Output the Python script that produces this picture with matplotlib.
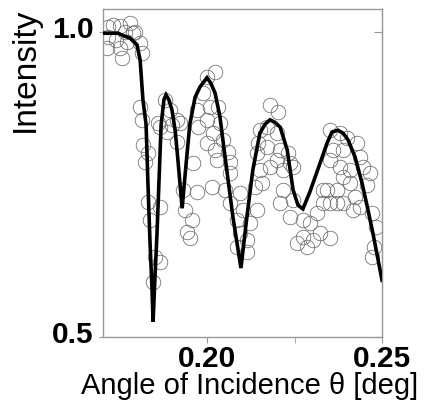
import numpy as np
import matplotlib
matplotlib.use("Agg")
import matplotlib.pyplot as plt
from matplotlib.transforms import ScaledTranslation

plt.rcParams['font.family'] = ['Liberation Sans', 'DejaVu Sans']

# fitted reflectivity curve
fit_theta = [0.1703, 0.1746, 0.1757, 0.1780, 0.1800, 0.1809, 0.1817, 0.1826, 0.1831, 0.1837,
             0.1843, 0.1846, 0.1851, 0.1857, 0.1863, 0.1869, 0.1877, 0.1883, 0.1891, 0.1900,
             0.1909, 0.1917, 0.1929, 0.1940, 0.1951, 0.1966, 0.1980, 0.2000, 0.2011, 0.2023,
             0.2037, 0.2051, 0.2074, 0.2097, 0.2114, 0.2131, 0.2151, 0.2166, 0.2180, 0.2194,
             0.2209, 0.2229, 0.2246, 0.2260, 0.2274, 0.2294, 0.2323, 0.2343, 0.2357, 0.2374,
             0.2389, 0.2403, 0.2423, 0.2443, 0.2457, 0.2474, 0.2500]
fit_int = [0.998, 0.998, 0.995, 0.990, 0.979, 0.954, 0.889, 0.848, 0.757, 0.659,
           0.577, 0.525, 0.593, 0.667, 0.757, 0.848, 0.889, 0.897, 0.889, 0.872,
           0.839, 0.790, 0.711, 0.782, 0.849, 0.893, 0.910, 0.925, 0.916, 0.900,
           0.861, 0.798, 0.697, 0.613, 0.697, 0.774, 0.834, 0.849, 0.856, 0.852,
           0.844, 0.807, 0.741, 0.716, 0.710, 0.738, 0.785, 0.818, 0.836, 0.839,
           0.834, 0.823, 0.795, 0.752, 0.716, 0.670, 0.593]

# measured points
meas_theta = [0.1717, 0.1731, 0.1751, 0.1780, 0.1794, 0.1766, 0.1717, 0.1740, 0.1771, 0.1809,
              0.1714, 0.1751, 0.1814, 0.1757, 0.1789,
              0.1809, 0.1814, 0.1817, 0.1823, 0.1831, 0.1837, 0.1866, 0.1851, 0.1866, 0.1846,
              0.1831,
              0.1880, 0.1894, 0.1914, 0.1900, 0.1866, 0.1886, 0.1914, 0.1860, 0.1923, 0.1931,
              0.1971, 0.1960, 0.1937, 0.1957, 0.1951, 0.1943,
              0.2023, 0.2000, 0.1989, 0.2009, 0.2031, 0.2000, 0.2037, 0.2017, 0.2046, 0.2000,
              0.2023, 0.2060, 0.1971, 0.1974, 0.2066,
              0.2029, 0.2066, 0.2051, 0.2094, 0.2137, 0.2157, 0.2066, 0.2103, 0.2143, 0.2086,
              0.2123, 0.2094, 0.2114, 0.2086, 0.2114, 0.2014,
              0.2180, 0.2203, 0.2151, 0.2171, 0.2200, 0.2146, 0.2171, 0.2209, 0.2231, 0.2237,
              0.2143, 0.2200, 0.2151, 0.2180, 0.2217,
              0.2217, 0.2246, 0.2209, 0.2237, 0.2274, 0.2314, 0.2351, 0.2331, 0.2274, 0.2303,
              0.2257, 0.2323, 0.2351, 0.2286, 0.2389, 0.2409, 0.2389, 0.2417, 0.2457, 0.2437,
              0.2471, 0.2483, 0.2477, 0.2471, 0.2294,
              0.2380, 0.2351, 0.2400, 0.2360, 0.2389, 0.2429, 0.2437, 0.2351, 0.2380, 0.2409,
              0.2446, 0.2466, 0.2343, 0.2371, 0.2423, 0.2331, 0.2371, 0.2246]
meas_int = [1.008, 1.011, 1.010, 1.015, 1.000, 1.000, 0.992, 0.987, 0.984, 0.982,
            0.974, 0.974, 0.966, 0.957, 0.998,
            0.877, 0.856, 0.815, 0.787, 0.721, 0.692, 0.713, 0.631, 0.623, 0.590,
            0.802,
            0.889, 0.872, 0.856, 0.848, 0.844, 0.836, 0.820, 0.851, 0.851, 0.741,
            0.738, 0.785, 0.708, 0.692, 0.662, 0.672,
            0.934, 0.926, 0.900, 0.877, 0.877, 0.856, 0.851, 0.834, 0.823, 0.818,
            0.807, 0.803, 0.872, 0.844, 0.769,
            0.790, 0.787, 0.741, 0.736, 0.746, 0.752, 0.720, 0.708, 0.708, 0.692,
            0.687, 0.670, 0.659, 0.648, 0.639, 0.746,
            0.880, 0.869, 0.839, 0.844, 0.834, 0.818, 0.811, 0.807, 0.802, 0.785,
            0.802, 0.790, 0.774, 0.779, 0.774,
            0.741, 0.725, 0.720, 0.697, 0.692, 0.703, 0.720, 0.741, 0.664, 0.659,
            0.654, 0.670, 0.662, 0.648, 0.762, 0.752, 0.720, 0.708, 0.749, 0.713,
            0.703, 0.680, 0.648, 0.631, 0.687,
            0.834, 0.839, 0.826, 0.807, 0.807, 0.818, 0.795, 0.790, 0.779, 0.774,
            0.779, 0.769, 0.741, 0.741, 0.730, 0.720, 0.720, 0.779]

x_major = [0.20, 0.25]
x_minor = [0.225]
y_ticks = [0.5, 1.0]

fig = plt.figure(figsize=(4.28, 4.05), dpi=100)
ax = fig.add_axes([0.2407, 0.1679, 0.6519, 0.8099])

ax.plot(meas_theta, meas_int, 'o', ms=10.5, mfc='none', mec='#6a6a6a', mew=0.55, zorder=2)
ax.plot(fit_theta, fit_int, '-', color='black', lw=2.6, solid_joinstyle='miter', zorder=3)

ax.set_xlim(0.1703, 0.25)
ax.set_ylim(0.5, 1.0377)

for s in ax.spines.values():
    s.set_color('#999999')
    s.set_linewidth(1.0)

ax.set_xticks(x_major)
ax.set_xticks(x_minor, minor=True)
ax.set_xticklabels(['%.2f' % v for v in x_major], fontsize=21.5, fontweight='bold')
ax.set_yticks(y_ticks)
ax.set_yticklabels(['%.1f' % v for v in y_ticks], fontsize=21.5, fontweight='bold')
ax.tick_params(axis='x', which='both', direction='out', length=4, color='#999999', pad=2)
ax.tick_params(axis='y', direction='out', length=3, color='#999999', pad=4)

# nudge y labels up a bit like the original
for lab in ax.get_yticklabels():
    lab.set_transform(lab.get_transform() + ScaledTranslation(0, 5 / 100, fig.dpi_scale_trans))

sec = ax.secondary_yaxis('right')
sec.set_yticks(y_ticks)
sec.tick_params(direction='in', length=6, color='#999999', labelright=False)
sec.spines['right'].set_color('#999999')

fig.text(250 / 428, 1 - 386 / 405, 'Angle of Incidence θ [deg]', fontsize=21,
         ha='center', va='center')
fig.text(25 / 428, 1 - 70 / 405, 'Intensity', fontsize=24, rotation=90,
         ha='center', va='center')

fig.savefig('out.png', dpi=100)
